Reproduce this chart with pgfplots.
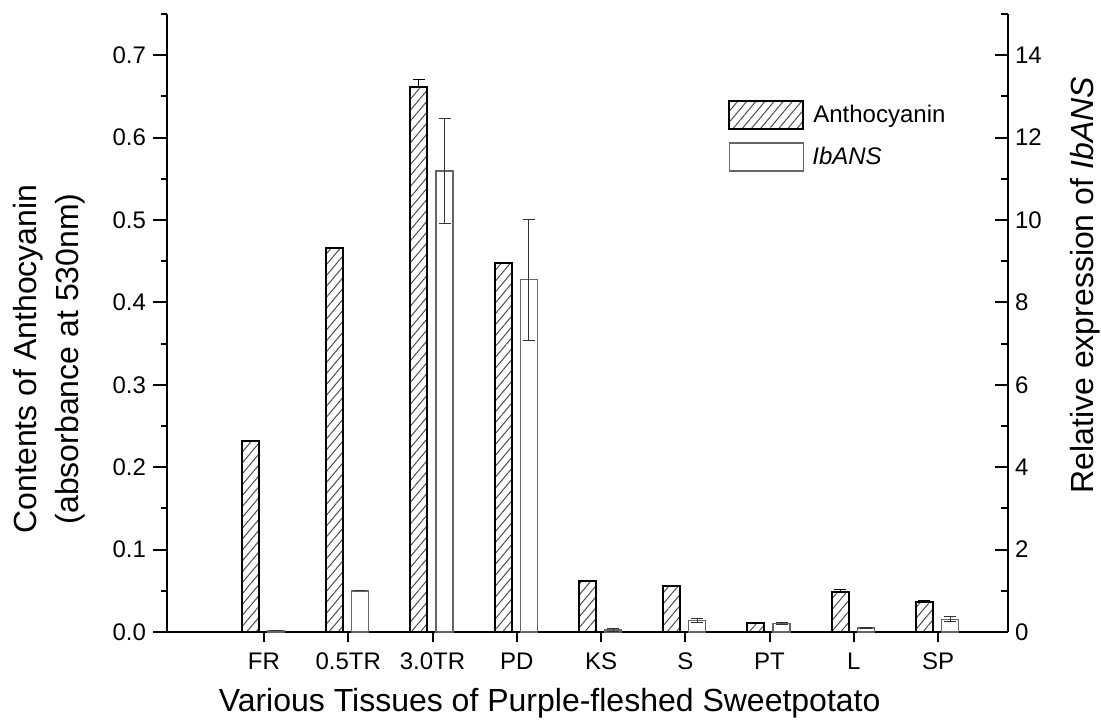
\documentclass[border=0pt]{standalone}
\usepackage{fontspec}
\setmainfont{Liberation Sans}
\usepackage{pgfplots}
\pgfplotsset{compat=1.18}
\usetikzlibrary{patterns.meta}

\tikzset{
  anthostyle/.style={draw=black, line width=1pt,
    pattern={Lines[angle=50,distance=3.5pt,line width=0.5pt]}, pattern color=black!70},
  ansstyle/.style={draw=black!60, line width=0.7pt, fill=none},
}
\pgfplotsset{
  base/.style={
    width=420.5pt, height=309pt, scale only axis,
    xmin=-0.151, xmax=9.83,
    /pgf/number format/assume math mode=true,
    tick label style={font=\fontsize{12}{14}\selectfont},
    tick style={line width=1pt, black},
  },
}

\begin{document}
\begin{tikzpicture}
\path[use as bounding box] (-83.5pt,-43.5pt) rectangle (467pt,316pt);

% left axis: anthocyanin
\begin{axis}[base,
  axis x line=bottom, axis y line=left,
  axis line style={-, line width=1pt},
  tick align=outside,
  major tick length=7pt, minor tick length=3pt,
  ymin=0, ymax=0.75,
  ytick={0,0.1,0.2,0.3,0.4,0.5,0.6,0.7},
  minor ytick={0.05,0.15,0.25,0.35,0.45,0.55,0.65,0.75},
  yticklabel style={/pgf/number format/.cd, fixed, fixed zerofill, precision=1},
  xtick={1,...,9},
  xticklabels={FR,0.5TR,3.0TR,PD,KS,S,PT,L,SP},
  xtick style={/pgfplots/major tick length=5pt},
  xlabel={Various Tissues of Purple-fleshed Sweetpotato},
  xlabel style={at={(axis description cs:0.455,-0.129)}, anchor=base,
    font=\fontsize{16}{20}\selectfont},
  ylabel={Contents of Anthocyanin\\(absorbance at 530nm)},
  ylabel style={align=center, at={(axis description cs:-0.183,0.442)}, anchor=north,
    inner sep=0pt, font=\fontsize{16}{21}\selectfont},
  legend cell align=left,
  legend style={at={(axis description cs:0.667,0.861)}, anchor=north west,
    draw=none, fill=none, inner sep=0pt, row sep=6pt,
    font=\fontsize{12}{14}\selectfont},
]
\addplot[ybar, bar width=8.5pt, bar shift=0pt, xshift=-6.8pt, anthostyle, forget plot,
  error bars/.cd, y dir=plus, y explicit,
  error bar style={black, line width=0.5pt},
  error mark options={rotate=90, black, mark size=3pt, line width=0.5pt}]
  coordinates {
    (1,0.232) +- (0,0)
    (2,0.466) +- (0,0.001)
    (3,0.662) +- (0,0.009)
    (4,0.448) +- (0,0.001)
    (5,0.062) +- (0,0.001)
    (6,0.056) +- (0,0.001)
    (7,0.011) +- (0,0.001)
    (8,0.049) +- (0,0.002)
    (9,0.037) +- (0,0.001)
  };
\addlegendimage{legend image code/.code={\draw[anthostyle] (0pt,-7pt) rectangle (37pt,7pt);}}
\addlegendentry{\hspace{2.5pt}Anthocyanin}
\addlegendimage{legend image code/.code={\draw[ansstyle] (0pt,-7pt) rectangle (37pt,7pt);}}
\addlegendentry{\hspace{2pt}\textit{IbANS}}
\end{axis}

% right axis: IbANS expression
\begin{axis}[base,
  axis y line=right, axis x line=none,
  axis line style={-, line width=1pt},
  tick align=inside,
  major tick length=6.5pt, minor tick length=3.5pt,
  ymin=0, ymax=15,
  ytick={0,2,4,6,8,10,12,14},
  minor ytick={1,3,5,7,9,11,13,15},
  ylabel={Relative expression of \textit{IbANS}},
  ylabel style={at={(axis description cs:1.1011,0.561)}, anchor=base, inner sep=0pt,
    font=\fontsize{16}{20}\selectfont},
]
\addplot[ybar, bar width=8.5pt, bar shift=0pt, xshift=6pt, ansstyle,
  error bars/.cd, y dir=both, y explicit,
  error bar style={black!80, line width=0.5pt},
  error mark options={rotate=90, black!80, mark size=3pt, line width=0.5pt}]
  coordinates {
    (1,0.03) +- (0,0)
    (2,1.0) +- (0,0)
    (3,11.19) +- (0,1.28)
    (4,8.55) +- (0,1.47)
    (5,0.05) +- (0,0.03)
    (6,0.28) +- (0,0.05)
    (7,0.20) +- (0,0.02)
    (8,0.10) +- (0,0.02)
    (9,0.31) +- (0,0.06)
  };
\end{axis}
\end{tikzpicture}
\end{document}
